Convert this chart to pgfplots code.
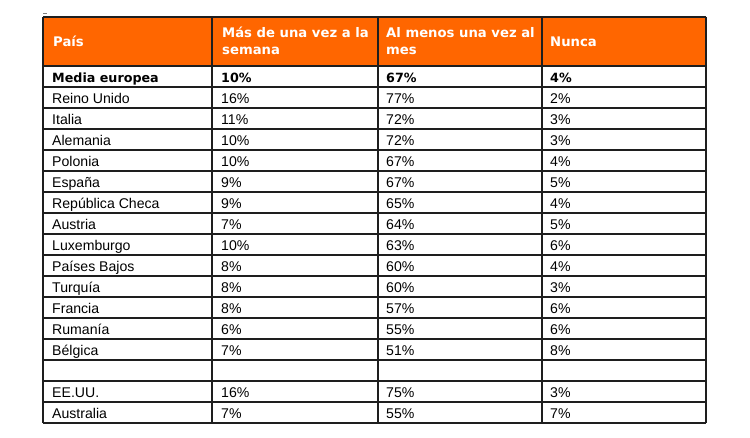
\documentclass[border=0pt]{standalone}
\usepackage{fontspec}
\setmainfont{Liberation Sans}
\newfontfamily\dvs{DejaVu Sans}
\usepackage{pgfplots}
\pgfplotsset{compat=1.18}
\usepackage{pgfplotstable}
\definecolor{hdr}{HTML}{FF6600}
\definecolor{rule}{HTML}{1E1E1E}
\newcommand{\bodyfont}{\fontsize{14.1}{16}\selectfont}
\newcommand{\boldfont}{\dvs\bfseries\fontsize{12.7}{15}\selectfont}
\newcommand{\hdrfont}{\dvs\bfseries\fontsize{13.2}{16}\selectfont}

\pgfplotstableread[col sep=comma]{
r,pais,mas,almenos,nunca
2,Reino Unido,16,77,2
3,Italia,11,72,3
4,Alemania,10,72,3
5,Polonia,10,67,4
6,España,9,67,5
7,República Checa,9,65,4
8,Austria,7,64,5
9,Luxemburgo,10,63,6
10,Países Bajos,8,60,4
11,Turquía,8,60,3
12,Francia,8,57,6
13,Rumanía,6,55,6
14,Bélgica,7,51,8
16,EE.UU.,16,75,3
17,Australia,7,55,7
}\datatbl

\pgfplotstableread[col sep=comma]{
r,pais,mas,almenos,nunca
1,Media europea,10,67,4
}\mediatbl

\begin{document}
\begin{tikzpicture}
\useasboundingbox (0,0) rectangle (750pt,438pt);
\begin{axis}[
  at={(0,0)}, anchor=south west,
  scale only axis, width=750pt, height=438pt,
  xmin=0, xmax=750, ymin=0, ymax=438,
  y dir=reverse, hide axis, clip=false,
  every node near coord/.style={anchor=base west, inner sep=0pt, text=black},
]
% header fill
\addplot[fill=hdr, draw=none] coordinates {(43,17) (706,17) (706,66) (43,66)} -- cycle;
% tiny mark
\addplot[gray, line width=1pt] coordinates {(43,13.5) (47,13.5)};
% vertical rules
\pgfplotsinvokeforeach{43,212,378,542,706}{
  \addplot[rule, line width=1.3pt] coordinates {(#1,17) (#1,423)};
}
% horizontal rules
\pgfplotsinvokeforeach{17,66,87,108,129,150,171,192,213,234,255,276,297,318,339,360,381,402,423}{
  \addplot[rule, line width=1.3pt] coordinates {(43,#1) (706,#1)};
}
% header text
\node[anchor=base west, inner sep=0pt, text=white, font=\hdrfont] at (axis cs:53,47) {País};
\node[anchor=base west, inner sep=0pt, text=white, font=\hdrfont] at (axis cs:222,38) {Más de una vez a la};
\node[anchor=base west, inner sep=0pt, text=white, font=\hdrfont] at (axis cs:222,55) {semana};
\node[anchor=base west, inner sep=0pt, text=white, font=\hdrfont] at (axis cs:386,38) {Al menos una vez al};
\node[anchor=base west, inner sep=0pt, text=white, font=\hdrfont] at (axis cs:386,55) {mes};
\node[anchor=base west, inner sep=0pt, text=white, font=\hdrfont] at (axis cs:550,47) {Nunca};
% Media europea row (bold)
\addplot[draw=none, nodes near coords, point meta=explicit symbolic, nodes near coords style={font=\boldfont}]
  table[x expr=52, y expr=66+21*\thisrow{r}-4, meta=pais] {\mediatbl};
\addplot[draw=none, nodes near coords={\pgfplotspointmeta\%}, point meta=explicit symbolic, nodes near coords style={font=\boldfont}]
  table[x expr=221, y expr=66+21*\thisrow{r}-4, meta=mas] {\mediatbl};
\addplot[draw=none, nodes near coords={\pgfplotspointmeta\%}, point meta=explicit symbolic, nodes near coords style={font=\boldfont}]
  table[x expr=386, y expr=66+21*\thisrow{r}-4, meta=almenos] {\mediatbl};
\addplot[draw=none, nodes near coords={\pgfplotspointmeta\%}, point meta=explicit symbolic, nodes near coords style={font=\boldfont}]
  table[x expr=550, y expr=66+21*\thisrow{r}-4, meta=nunca] {\mediatbl};
% other rows
\addplot[draw=none, nodes near coords, point meta=explicit symbolic, nodes near coords style={font=\bodyfont}]
  table[x expr=52, y expr=66+21*\thisrow{r}-4, meta=pais] {\datatbl};
\addplot[draw=none, nodes near coords={\pgfplotspointmeta\%}, point meta=explicit symbolic, nodes near coords style={font=\bodyfont}]
  table[x expr=221, y expr=66+21*\thisrow{r}-4, meta=mas] {\datatbl};
\addplot[draw=none, nodes near coords={\pgfplotspointmeta\%}, point meta=explicit symbolic, nodes near coords style={font=\bodyfont}]
  table[x expr=386, y expr=66+21*\thisrow{r}-4, meta=almenos] {\datatbl};
\addplot[draw=none, nodes near coords={\pgfplotspointmeta\%}, point meta=explicit symbolic, nodes near coords style={font=\bodyfont}]
  table[x expr=550, y expr=66+21*\thisrow{r}-4, meta=nunca] {\datatbl};
\end{axis}
\end{tikzpicture}
\end{document}
